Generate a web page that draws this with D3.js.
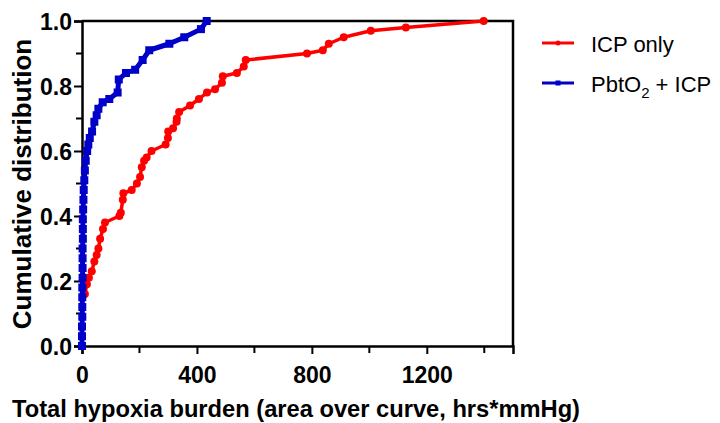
<!DOCTYPE html>
<html>
<head>
<meta charset="utf-8">
<script src="https://cdn.jsdelivr.net/npm/d3@7"></script>
<style>
  body { margin: 0; background: #fff; }
  svg { display: block; font-family: "Liberation Sans", Arial, sans-serif; }
</style>
</head>
<body>
<svg id="chart" width="720" height="423"></svg>
<script>
// burden values (hrs*mmHg) and cumulative fraction
var icpBurden = [10, 17, 24, 34, 43, 51, 57, 63, 73, 80, 130, 135, 142, 144, 173, 191, 202, 208, 216, 225, 242, 291, 299, 300, 317, 329, 330, 338, 376, 407, 435, 463, 487, 490, 539, 563, 570, 783, 838, 859, 911, 1005, 1127, 1398];
var icpCum = [0.16, 0.19, 0.21, 0.23, 0.26, 0.28, 0.30, 0.33, 0.36, 0.38, 0.40, 0.41, 0.45, 0.47, 0.48, 0.50, 0.52, 0.55, 0.57, 0.58, 0.60, 0.62, 0.64, 0.66, 0.67, 0.69, 0.70, 0.72, 0.74, 0.76, 0.78, 0.79, 0.81, 0.83, 0.84, 0.86, 0.88, 0.90, 0.91, 0.93, 0.95, 0.97, 0.98, 1.0];

var pbtBurden = [0, 0, 0, 1, 1, 1, 1, 2, 2, 2, 2, 3, 3, 3, 4, 5, 6, 8, 10, 13, 18, 22, 27, 35, 43, 51, 57, 72, 95, 124, 128, 153, 185, 211, 234, 304, 356, 414, 434];
var pbtCum = [0, 0.03, 0.06, 0.09, 0.12, 0.15, 0.18, 0.21, 0.24, 0.27, 0.30, 0.33, 0.36, 0.39, 0.42, 0.45, 0.48, 0.51, 0.54, 0.57, 0.60, 0.62, 0.64, 0.66, 0.69, 0.71, 0.73, 0.75, 0.76, 0.78, 0.82, 0.84, 0.85, 0.88, 0.91, 0.93, 0.95, 0.975, 1.0];

var xTicks = [0, 400, 800, 1200];
var xMinor = [200, 600, 1000, 1400];
var yTicks = [0, 0.2, 0.4, 0.6, 0.8, 1.0];
var yMinor = [0.1, 0.3, 0.5, 0.7, 0.9];

var seriesNames = ["ICP only", "PbtO2 + ICP"];
var seriesColors = ["#ff0000", "#0000c8"];

var svg = d3.select("#chart");

var x = d3.scaleLinear().domain([0, 1500]).range([82, 513]);
var y = d3.scaleLinear().domain([0, 1]).range([346, 21]);

// frame (top + right)
svg.append("path")
  .attr("d", "M" + x(0) + "," + y(1) + "H" + x(1500) + "V" + y(0))
  .attr("fill", "none")
  .attr("stroke", "#000")
  .attr("stroke-width", 2.5);

// x axis
var xAxis = svg.append("g").attr("transform", "translate(0," + y(0) + ")");
xAxis.call(d3.axisBottom(x).tickValues(xTicks).tickSize(8).tickFormat(d3.format("d")));
xAxis.selectAll(".minor")
  .data(xMinor).enter().append("line")
  .attr("class", "minor")
  .attr("x1", d => x(d)).attr("x2", d => x(d))
  .attr("y1", 0).attr("y2", 7)
  .attr("stroke", "#000").attr("stroke-width", 2);

// y axis
var yAxis = svg.append("g").attr("transform", "translate(" + x(0) + ",0)");
yAxis.call(d3.axisLeft(y).tickValues(yTicks).tickSize(8).tickFormat(d3.format(".1f")));
yAxis.selectAll(".minor")
  .data(yMinor).enter().append("line")
  .attr("class", "minor")
  .attr("y1", d => y(d)).attr("y2", d => y(d))
  .attr("x1", 0).attr("x2", -6)
  .attr("stroke", "#000").attr("stroke-width", 2);

[xAxis, yAxis].forEach(function(g){
  g.select(".domain").attr("stroke-width", 2.5);
  g.selectAll(".tick line").attr("stroke-width", 2);
  g.selectAll("text")
    .attr("font-family", "Liberation Sans, Arial, sans-serif")
    .attr("font-size", 23)
    .attr("font-weight", "bold")
    .attr("fill", "#000");
});
xAxis.selectAll(".tick text").attr("dy", "1.15em");
yAxis.selectAll(".tick text").attr("x", -10).attr("dy", "0.36em");

// series
var icpPts = d3.zip(icpBurden, icpCum);
var pbtPts = d3.zip(pbtBurden, pbtCum);

var line = d3.line().x(d => x(d[0])).y(d => y(d[1]));

svg.append("path").datum(icpPts)
  .attr("d", line).attr("fill", "none")
  .attr("stroke", seriesColors[0]).attr("stroke-width", 3.5)
  .attr("stroke-linejoin", "round");
svg.selectAll(".icp-dot").data(icpPts).enter().append("circle")
  .attr("class", "icp-dot")
  .attr("cx", d => x(d[0])).attr("cy", d => y(d[1]))
  .attr("r", 4).attr("fill", seriesColors[0]);

svg.append("path").datum(pbtPts)
  .attr("d", line).attr("fill", "none")
  .attr("stroke", seriesColors[1]).attr("stroke-width", 5)
  .attr("stroke-linejoin", "round");
svg.selectAll(".pbt-sq").data(pbtPts).enter().append("rect")
  .attr("class", "pbt-sq")
  .attr("x", d => x(d[0]) - 4).attr("y", d => y(d[1]) - 4)
  .attr("width", 8).attr("height", 8)
  .attr("fill", seriesColors[1]);

// axis titles
svg.append("text")
  .attr("transform", "translate(31,184) rotate(-90)")
  .attr("text-anchor", "middle")
  .attr("font-size", 26).attr("font-weight", "bold")
  .text("Cumulative distribution");

svg.append("text")
  .attr("x", 12).attr("y", 417)
  .attr("font-size", 23.5).attr("font-weight", "bold")
  .attr("textLength", 568).attr("lengthAdjust", "spacingAndGlyphs")
  .text("Total hypoxia burden (area over curve, hrs*mmHg)");

// legend
var legend = svg.append("g");
[43, 83].forEach(function(ly, i){
  legend.append("line")
    .attr("x1", 542).attr("x2", 574).attr("y1", ly).attr("y2", ly)
    .attr("stroke", seriesColors[i]).attr("stroke-width", 3);
  if (i == 0) {
    legend.append("circle").attr("cx", 558).attr("cy", ly).attr("r", 2.5).attr("fill", seriesColors[i]);
  } else {
    legend.append("rect").attr("x", 555.5).attr("y", ly - 2.5).attr("width", 5).attr("height", 5).attr("fill", seriesColors[i]);
  }
});
legend.append("text")
  .attr("x", 591).attr("y", 52)
  .attr("font-size", 22)
  .text(seriesNames[0]);
var t2 = legend.append("text")
  .attr("x", 591).attr("y", 92)
  .attr("font-size", 22);
t2.append("tspan").text("PbtO");
t2.append("tspan").attr("font-size", 15).attr("dy", 6).text("2");
t2.append("tspan").attr("dy", -6).text(" + ICP");
</script>
</body>
</html>
